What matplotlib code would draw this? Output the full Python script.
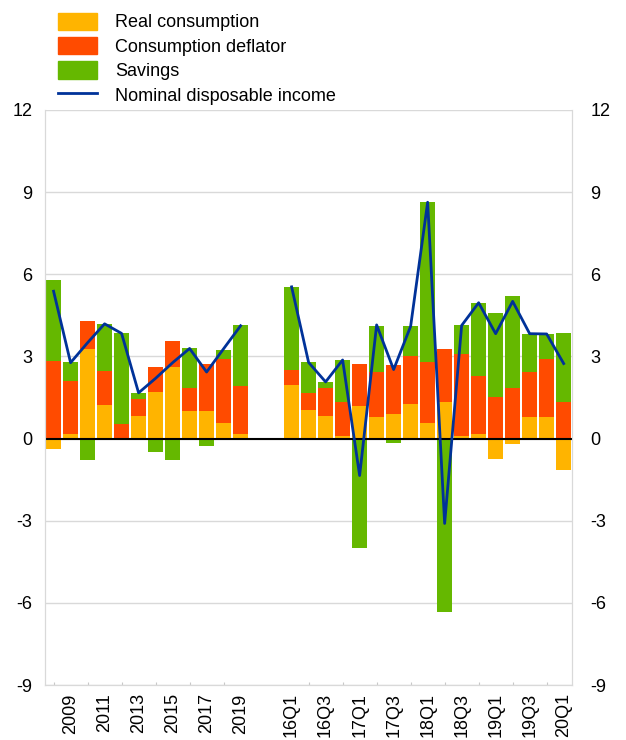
import numpy as np
import matplotlib
matplotlib.use("Agg")
import matplotlib.pyplot as plt
from matplotlib.patches import Patch
from matplotlib.lines import Line2D

plt.rcParams["font.family"] = ["Liberation Sans", "DejaVu Sans"]
plt.rcParams["axes.unicode_minus"] = False

YELLOW = "#FFB400"
RED = "#FF4B00"
GREEN = "#65B800"
BLUE = "#003299"

# annual 2008-2019, then quarterly 16Q1-20Q1
years = [str(y) for y in range(2008, 2020)]
quarters = [f"{y}Q{q}" for y in range(16, 21) for q in range(1, 5)][:17]

real_cons_a = [-0.38, 0.18, 3.26, 1.21, 0.02, 0.84, 1.69, 2.62, 0.99, 1.02, 0.58, 0.15]
deflator_a = [2.85, 1.94, 1.05, 1.25, 0.51, 0.60, 0.94, 0.96, 0.84, 1.69, 2.32, 1.76]
savings_a = [2.93, 0.67, -0.77, 1.73, 3.34, 0.23, -0.49, -0.80, 1.46, -0.28, 0.35, 2.25]
income_a = [5.38, 2.77, 3.50, 4.19, 3.84, 1.67, 2.20, 2.77, 3.29, 2.43, 3.28, 4.12]

real_cons_q = [1.95, 1.05, 0.84, 0.09, 1.19, 0.77, 0.89, 1.25, 0.57, 1.33, 0.08, 0.17,
               -0.76, -0.21, 0.80, 0.80, -1.13]
deflator_q = [0.55, 0.62, 0.99, 1.24, 1.52, 1.66, 1.79, 1.78, 2.24, 1.93, 3.02, 2.13,
              1.53, 1.86, 1.63, 2.12, 1.35]
savings_q = [3.04, 1.11, 0.24, 1.54, -3.99, 1.67, -0.16, 1.07, 5.82, -6.34, 1.03, 2.66,
             3.07, 3.34, 1.40, 0.90, 2.52]
income_q = [5.54, 2.78, 2.07, 2.87, -1.35, 4.15, 2.52, 4.10, 8.63, -3.10, 4.13, 4.96,
            3.83, 5.01, 3.83, 3.82, 2.74]

gap = 2
x_a = np.arange(len(years))
x_q = np.arange(len(quarters)) + len(years) + gap
n_slots = len(years) + gap + len(quarters)

real_cons = np.array(real_cons_a + real_cons_q)
deflator = np.array(deflator_a + deflator_q)
savings = np.array(savings_a + savings_q)
xs = np.concatenate([x_a, x_q])

fig = plt.figure(figsize=(6.26, 7.40), dpi=100)
ax = fig.add_axes([0.072, 0.0743, 0.842, 0.7771])

# diverging stack: positives build up from zero, negatives build down
pos = np.zeros(len(xs))
neg = np.zeros(len(xs))
w = 0.87
for vals, col in [(real_cons, YELLOW), (deflator, RED), (savings, GREEN)]:
    p = np.where(vals > 0, vals, 0)
    n = np.where(vals < 0, vals, 0)
    ax.bar(xs, p, w, bottom=pos, color=col, linewidth=0, zorder=2)
    ax.bar(xs, n, w, bottom=neg, color=col, linewidth=0, zorder=2)
    pos += p
    neg += n

ax.plot(x_a, income_a, color=BLUE, lw=2.0, zorder=4)
ax.plot(x_q, income_q, color=BLUE, lw=2.0, zorder=4)
ax.axhline(0, color="black", lw=1.5, zorder=3)

ax.set_xlim(-0.5, n_slots - 0.5)
ax.set_ylim(-9, 12)
ax.set_yticks(range(-9, 13, 3))
ax.grid(axis="y", color="#d9d9d9", lw=1, zorder=0)
ax.tick_params(axis="y", length=0, labelsize=13, pad=9)

# right-hand scale sits a little further out
axr = ax.twinx()
axr.set_ylim(ax.get_ylim())
axr.set_yticks(range(-9, 13, 3))
axr.tick_params(axis="y", length=0, labelsize=13, pad=13)

for a in (ax, axr):
    a.spines["top"].set_visible(False)
    for s in ["left", "right", "bottom"]:
        a.spines[s].set_color("#d9d9d9")

tick_pos = list(x_a[1::2]) + list(x_q[::2])
tick_lab = years[1::2] + quarters[::2]
ax.set_xticks(tick_pos)
ax.set_xticklabels(tick_lab, rotation=90, fontsize=13)
ax.tick_params(axis="x", length=0, pad=6)
ax.set_xticks(xs, minor=True)
ax.tick_params(axis="x", which="minor", direction="in", length=2.5, width=0.8,
               color="#c8c8c8")

handles = [Patch(color=YELLOW), Patch(color=RED), Patch(color=GREEN),
           Line2D([], [], color=BLUE, lw=2)]
labels = ["Real consumption", "Consumption deflator", "Savings",
          "Nominal disposable income"]
fig.legend(handles, labels, loc="upper left", bbox_to_anchor=(0.072, 1.0),
           frameon=False, fontsize=13, handlelength=2.2, handleheight=1.1,
           labelspacing=0.31, handletextpad=1.0, borderaxespad=0.3)

fig.savefig("out.png", dpi=100)
